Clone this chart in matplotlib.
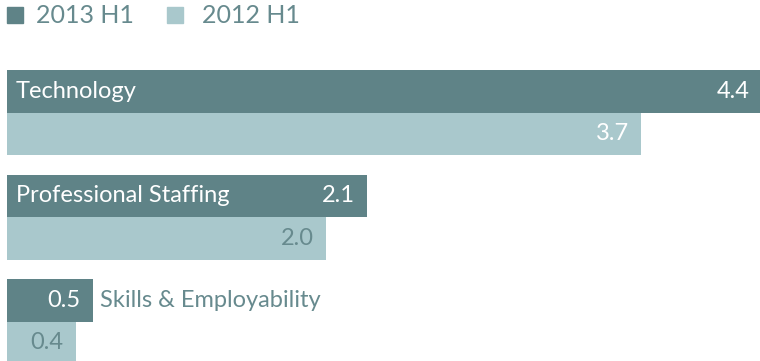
import matplotlib
matplotlib.use('Agg')
import matplotlib.pyplot as plt
from matplotlib.patches import Rectangle

# données
categories = ['Technology', 'Professional Staffing', 'Skills & Employability']
h1_2013 = [4.4, 2.1, 0.5]
h1_2012 = [3.7, 1.86, 0.4]   # longueur
lab_2013 = ['4.4', '2.1', '0.5']
lab_2012 = ['3.7', '2.0', '0.4']
series = ['2013 H1', '2012 H1']

dark = '#5f8387'
light = '#a9c8cc'
txt_dark = '#678a8e'

plt.rcParams['font.family'] = ['Lato', 'DejaVu Sans']

fig = plt.figure(figsize=(7.6, 3.61), dpi=100)
ax = fig.add_axes([0, 0, 1, 1])

px = 171.4  # pixels par unité
ax.set_xlim(-7 / px, 753 / px)
pitch = 104.5
h = 42.5 / pitch
top = -h / 2 - 70 / pitch
ax.set_ylim(top + 361 / pitch, top)
ax.axis('off')

pos = list(range(len(categories)))
y12 = [p + h for p in pos]
ax.barh(pos, h1_2013, height=h, color=dark, left=0)
ax.barh(y12, h1_2012, height=h, color=light, left=0)

pad = 12 / px
fs = 17
for i, cat in enumerate(categories):
    # valeurs
    ax.text(h1_2013[i] - pad, pos[i], lab_2013[i], ha='right', va='center',
            color='white', fontsize=fs)
    c12 = 'white' if i == 0 else txt_dark
    ax.text(h1_2012[i] - pad, y12[i], lab_2012[i], ha='right', va='center',
            color=c12, fontsize=fs)
    # catégories
    if h1_2013[i] > 1:
        ax.text(9 / px, pos[i], cat, ha='left', va='center', color='white',
                fontsize=fs)
    else:
        ax.text(h1_2013[i] + 7 / px, pos[i], cat, ha='left', va='center',
                color=txt_dark, fontsize=fs)

# légende
sq_x = [7, 167]
tx_x = [36, 202]
for k, (name, col) in enumerate(zip(series, [dark, light])):
    fig.patches.append(Rectangle((sq_x[k] / 760, 1 - 23 / 361), 16 / 760, 16 / 361,
                                 transform=fig.transFigure, color=col))
    fig.text(tx_x[k] / 760, 1 - 15.5 / 361, name, ha='left', va='center',
             color=txt_dark, fontsize=18)

fig.savefig('out.png', dpi=100)
